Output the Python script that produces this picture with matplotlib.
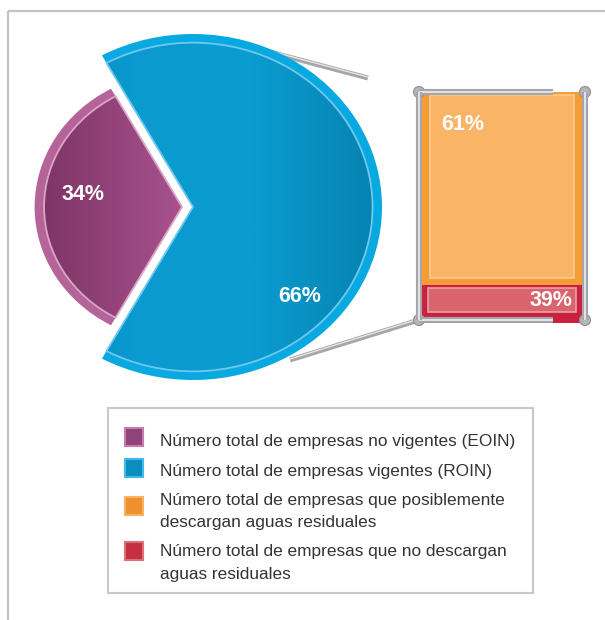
"pie of bar - empresas EOIN / ROIN"
import numpy as np
import matplotlib.pyplot as plt
from matplotlib.patches import Rectangle, Circle
from matplotlib.colors import LinearSegmentedColormap

"data"
pie_labels = ['EOIN', 'ROIN']
pie_values = [34, 66]
bar_labels = ['no descargan', 'posiblemente descargan']
bar_values = [39, 61]          # stacked bottom -> top
legend_labels = ['Número total de empresas no vigentes (EOIN)',
                 'Número total de empresas vigentes (ROIN)',
                 'Número total de empresas que posiblemente\ndescargan aguas residuales',
                 'Número total de empresas que no descargan\naguas residuales']

"style"
W, H = 605, 620
ring_c = ['#B5649A', '#08A8E0']
inner_c = ['#9A4A80', '#0790C2']
line_c = ['#D9A6C6', '#70C8EE']
orange_out, orange_in, orange_line = '#F49C36', '#F9B466', '#FCCB92'
red_out, red_in, red_line = '#C9213F', '#D9646E', '#EA9EA4'
legend_face = ['#8E4478', '#0A8DC0', '#EE9030', '#C43040']
legend_edge = ['#C87AAA', '#44B8EA', '#F9B262', '#E07078']
rod_c, rod_hi = '#A6A6AA', '#E4E4E6'

plt.rcParams['font.family'] = ['Liberation Sans', 'DejaVu Sans']
pct_font = dict(family=['Liberation Sans Narrow', 'Liberation Sans', 'DejaVu Sans'],
                fontweight='bold', color='white', fontsize=15.5)


def px_rect(x0, y0, x1, y1):
    return [x0 / W, 1 - y1 / H, (x1 - x0) / W, (y1 - y0) / H]


fig = plt.figure(figsize=(W / 100, H / 100), dpi=100)

"background axes in pixel coords"
ax_bg = fig.add_axes([0, 0, 1, 1])
ax_bg.set_xlim(0, W)
ax_bg.set_ylim(H, 0)
ax_bg.axis('off')
ax_bg.plot([8, W], [11, 11], color='#C2C2C2', lw=1.6, solid_capstyle='butt')
ax_bg.plot([8, 8], [11, H], color='#C2C2C2', lw=1.6, solid_capstyle='butt')

# connector rods (behind the pie)
for (x0, y0), (x1, y1) in [((240, 44), (368, 78)), ((290, 360), (419, 320))]:
    ax_bg.plot([x0, x1], [y0, y1], color=rod_c, lw=3.6, solid_capstyle='butt')
    ax_bg.plot([x0, x1], [y0 - 1, y1 - 1], color=rod_hi, lw=1.0, solid_capstyle='butt')

"pie (slightly wider than tall)"
ax_pie = fig.add_axes(px_rect(193 - 189, 207 - 173, 193 + 189, 207 + 173))
start = 180 - pie_values[0] / sum(pie_values) * 180
explode = [0.058, 0]
outer, _ = ax_pie.pie(pie_values, colors=ring_c, startangle=start,
                      explode=explode, radius=1.0)
inner, _ = ax_pie.pie(pie_values, colors=inner_c, startangle=start,
                      explode=explode, radius=0.95)
outer[0].set_radius(0.78)
inner[0].set_radius(0.73)

grad_p = LinearSegmentedColormap.from_list('gp', ['#7E3566', '#A8528E', '#8A3E72'])
grad_b = LinearSegmentedColormap.from_list('gb', ['#0680AC', '#0A9AD0', '#0A9CD0', '#0683B2'])
xx = np.linspace(0, 1, 256)[None, :]
for w, cm, lc in zip(inner, [grad_p, grad_b], line_c):
    img = ax_pie.imshow(xx, cmap=cm, extent=(w.center[0] - w.r, w.center[0] + w.r, -1, 1),
                        aspect='auto', zorder=w.get_zorder() + 0.1)
    img.set_clip_path(w)
    w.set_facecolor('none')
    w.set_edgecolor(lc)
    w.set_linewidth(1.3)
    w.set_zorder(w.get_zorder() + 0.2)

ax_pie.set_xlim(-1, 1)
ax_pie.set_ylim(-1, 1)
ax_pie.set_aspect('auto')
ax_pie.axis('off')

"stacked bar"
ax_bar = fig.add_axes(px_rect(420, 92, 584, 323))
ylo, yhi = 27, 100
u = (yhi - ylo) / (323 - 92)      # data units per pixel
ax_bar.bar(0, bar_values[0], bottom=0, width=1, color=red_out)
ax_bar.bar(0, bar_values[1], bottom=bar_values[0], width=1, color=orange_out)
ax_bar.bar(0, bar_values[1] - 10 * u, bottom=bar_values[0] + 7 * u, width=0.88,
           color=orange_in, edgecolor=orange_line, lw=1.2)
ax_bar.bar(0, bar_values[0] - ylo - 14 * u, bottom=ylo + 11 * u, width=0.9,
           color=red_in, edgecolor=red_line, lw=1.2)
ax_bar.set_xlim(-0.5, 0.5)
ax_bar.set_ylim(ylo, yhi)
ax_bar.axis('off')

"overlay: bar frame, labels, legend"
ax_top = fig.add_axes([0, 0, 1, 1], zorder=5)
ax_top.set_xlim(0, W)
ax_top.set_ylim(H, 0)
ax_top.axis('off')
ax_top.patch.set_visible(False)

for xs, ys in [([419, 553], [92, 92]), ([419, 553], [320, 320]),
               ([419, 419], [92, 320]), ([585, 585], [92, 320])]:
    ax_top.plot(xs, ys, color=rod_c, lw=4.4, solid_capstyle='butt')
    ax_top.plot(xs, ys, color=rod_hi, lw=1.4, solid_capstyle='butt')
for cx, cy in [(419, 92), (585, 92), (419, 320), (585, 320)]:
    ax_top.add_patch(Circle((cx, cy), 5.5, facecolor='#B6B6BA', edgecolor='#8E8E92', lw=0.8))

ax_top.text(83, 195, f'{pie_values[0]}%', ha='center', va='center', **pct_font)
ax_top.text(300, 296, f'{pie_values[1]}%', ha='center', va='center', **pct_font)
ax_top.text(463, 124, f'{bar_values[1]}%', ha='center', va='center', **pct_font)
ax_top.text(551, 300, f'{bar_values[0]}%', ha='center', va='center', **pct_font)

ax_top.add_patch(Rectangle((108, 408), 425, 185, facecolor='none',
                           edgecolor='#C8C8C8', lw=1.5))
marker_y = [428, 459, 497, 542]
text_y = [441.5, 471.5, 500, 551.5]
for lab, my, ty, fc, ec in zip(legend_labels, marker_y, text_y, legend_face, legend_edge):
    ax_top.add_patch(Rectangle((125, my), 18, 18, facecolor=fc, edgecolor=ec, lw=1.5))
    for i, line in enumerate(lab.split('\n')):
        ax_top.text(160, ty + i * 23, line, ha='left', va='center', fontsize=12.4,
                    color='#333333')

fig.savefig('out.png', dpi=100)
